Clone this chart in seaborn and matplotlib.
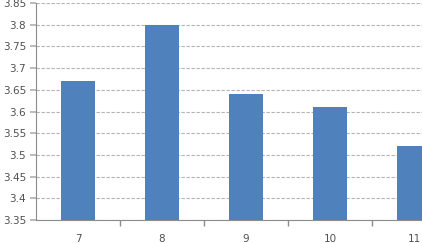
import matplotlib
matplotlib.use("Agg")
import matplotlib.pyplot as plt
import seaborn as sns
import pandas as pd
import numpy as np

categories = ["7", "8", "9", "10", "11"]
values = [3.67, 3.80, 3.64, 3.61, 3.52]
y_ticks = [3.35, 3.4, 3.45, 3.5, 3.55, 3.6, 3.65, 3.7, 3.75, 3.8, 3.85]
y_tick_labels = ["3.35", "3.4", "3.45", "3.5", "3.55", "3.6", "3.65", "3.7", "3.75", "3.8", "3.85"]

df = pd.DataFrame({"cat": categories, "val": values})

sns.set_theme(style="white")
plt.rcParams['font.family'] = ['DejaVu Sans']

fig = plt.figure(figsize=(4.22, 2.43), dpi=100)
ax = fig.add_axes([36/422, 23/243, 420/422, 217/243])

sns.barplot(data=df, x="cat", y="val", color="#4F81BD", width=0.4, ax=ax,
            saturation=1, order=categories, linewidth=0)

ax.set_ylim(3.35, 3.85)
ax.set_xlim(-0.5, 4.5)
ax.set_yticks(y_ticks)
ax.set_yticklabels(y_tick_labels)
ax.set_xlabel("")
ax.set_ylabel("")
ax.set_axisbelow(True)
ax.yaxis.grid(True, color="#b4b4b4", linestyle=(0, (3, 1.5)), linewidth=0.8)
ax.xaxis.grid(False)

for s in ["top", "right"]:
    ax.spines[s].set_visible(False)
for s in ["left", "bottom"]:
    ax.spines[s].set_color("#8c8c8c")
    ax.spines[s].set_linewidth(0.8)

ax.set_xticks(np.arange(len(categories)))
ax.set_xticklabels(categories)
ax.tick_params(axis="x", length=0, pad=10, labelsize=7.5, labelcolor="#505050")
ax.set_xticks(np.arange(len(categories)) + 0.5, minor=True)
ax.tick_params(axis="x", which="minor", length=4, color="#8c8c8c", direction="out")
ax.tick_params(axis="y", length=4, color="#b4b4b4", direction="out", pad=3,
               labelsize=7.5, labelcolor="#505050")
ax.tick_params(left=True, bottom=True, which="both")

fig.savefig("out.png", dpi=100)
